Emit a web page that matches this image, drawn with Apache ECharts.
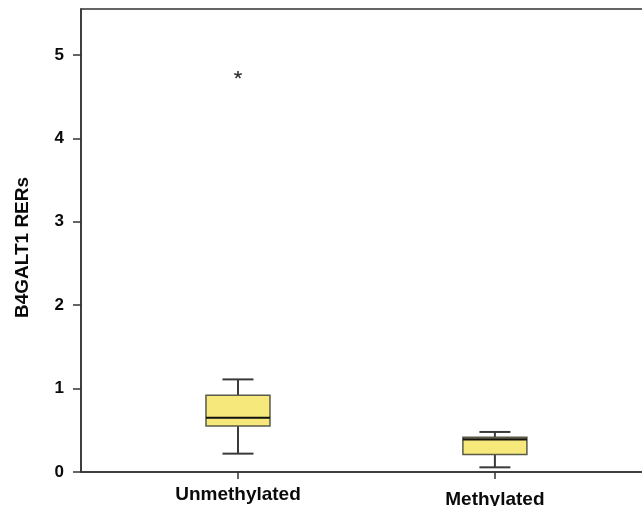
<!DOCTYPE html>
<html>
<head>
<meta charset="utf-8">
<style>
  html, body { margin: 0; padding: 0; background: #fff; }
  #chart { width: 642px; height: 506px; }
</style>
<script src="https://cdn.jsdelivr.net/npm/echarts@6/dist/echarts.min.js"></script>
</head>
<body>
<div id="chart"></div>
<script>
// Group names and their positions along the x axis
const groups = ['Unmethylated', 'Methylated'];
const positions = [1, 2];

// Box-plot statistics per group
const lowWhisker = [0.22, 0.056];
const q1 = [0.55, 0.21];
const median = [0.65, 0.39];
const q3 = [0.92, 0.416];
const highWhisker = [1.11, 0.48];

// Outlying points: [position, value]
const outliers = [[1, 4.76]];

// Y axis ticks
const yTicks = [0, 1, 2, 3, 4, 5];

const boxData = groups.map((g, i) => [
  positions[i], lowWhisker[i], q1[i], median[i], q3[i], highWhisker[i]
]);

const BOX_W = 64;
const CAP_W = 31;
const FONT = '"Liberation Sans", Arial, sans-serif';

function renderBox(params, api) {
  const x = api.value(0);
  const pLo = api.coord([x, api.value(1)]);
  const pQ1 = api.coord([x, api.value(2)]);
  const pMed = api.coord([x, api.value(3)]);
  const pQ3 = api.coord([x, api.value(4)]);
  const pHi = api.coord([x, api.value(5)]);
  const cx = pMed[0];
  const whisker = { stroke: '#3a3a3a', lineWidth: 2 };
  return {
    type: 'group',
    children: [
      { type: 'line', shape: { x1: cx, y1: pHi[1], x2: cx, y2: pQ3[1] }, style: whisker },
      { type: 'line', shape: { x1: cx, y1: pQ1[1], x2: cx, y2: pLo[1] }, style: whisker },
      { type: 'line', shape: { x1: cx - CAP_W / 2, y1: pHi[1], x2: cx + CAP_W / 2, y2: pHi[1] }, style: whisker },
      { type: 'line', shape: { x1: cx - CAP_W / 2, y1: pLo[1], x2: cx + CAP_W / 2, y2: pLo[1] }, style: whisker },
      {
        type: 'rect',
        shape: { x: cx - BOX_W / 2, y: pQ3[1], width: BOX_W, height: pQ1[1] - pQ3[1] },
        style: { fill: '#f6e87a', stroke: '#5a5a4a', lineWidth: 1.5 }
      },
      { type: 'line', shape: { x1: cx - BOX_W / 2, y1: pMed[1], x2: cx + BOX_W / 2, y2: pMed[1] }, style: { stroke: '#111', lineWidth: 2.2 } }
    ]
  };
}

function renderAsterisk(params, api) {
  const p = api.coord([api.value(0), api.value(1)]);
  const r = 4;
  const arms = [90, 18, 162, 234, 306].map(deg => {
    const a = deg * Math.PI / 180;
    return {
      type: 'line',
      shape: { x1: p[0], y1: p[1], x2: p[0] + r * Math.cos(a), y2: p[1] - r * Math.sin(a) },
      style: { stroke: '#333', lineWidth: 1.6 }
    };
  });
  return { type: 'group', children: arms };
}

const chart = echarts.init(document.getElementById('chart'), null, { renderer: 'canvas' });
chart.setOption({
  animation: false,
  backgroundColor: '#fff',
  grid: {
    left: 81, right: -5, top: 9, bottom: 34,
    outerBoundsMode: 'none',
    containLabel: false,
    show: true, borderColor: '#333', borderWidth: 1.5, backgroundColor: 'transparent'
  },
  xAxis: {
    type: 'value',
    min: 0.389, max: 2.592,
    splitLine: { show: false },
    axisLine: { show: true, onZero: false, lineStyle: { color: '#333', width: 1.5 } },
    axisTick: { show: true, length: 7, customValues: positions, lineStyle: { color: '#333', width: 1.5 } },
    axisLabel: {
      customValues: positions,
      margin: 13,
      formatter: v => {
        const i = positions.indexOf(v);
        return i === 0 ? '{a|' + groups[i] + '}' : '{b|' + groups[i] + '}';
      },
      rich: {
        a: { fontFamily: FONT, fontWeight: 'bold', fontSize: 19, color: '#0a0a0a' },
        b: { fontFamily: FONT, fontWeight: 'bold', fontSize: 19, color: '#0a0a0a', padding: [5, 0, 0, 0] }
      }
    }
  },
  yAxis: {
    type: 'value',
    min: 0, max: 5.55,
    name: 'B4GALT1 RERs',
    nameLocation: 'middle',
    nameGap: 49,
    nameRotate: 90,
    nameTextStyle: { fontFamily: FONT, fontWeight: 'bold', fontSize: 19, color: '#0a0a0a', padding: [0, 14, 0, 0] },
    splitLine: { show: false },
    axisLine: { show: true, lineStyle: { color: '#333', width: 1.5 } },
    axisTick: { show: true, length: 8, customValues: yTicks, lineStyle: { color: '#333', width: 1.5 } },
    axisLabel: {
      customValues: yTicks,
      margin: 17,
      fontFamily: FONT, fontWeight: 'bold', fontSize: 17, color: '#0a0a0a'
    }
  },
  series: [
    {
      type: 'custom',
      renderItem: renderBox,
      encode: { x: 0, y: [1, 2, 3, 4, 5] },
      data: boxData,
      clip: false
    },
    {
      type: 'custom',
      renderItem: renderAsterisk,
      encode: { x: 0, y: 1 },
      data: outliers
    }
  ]
});
</script>
</body>
</html>
